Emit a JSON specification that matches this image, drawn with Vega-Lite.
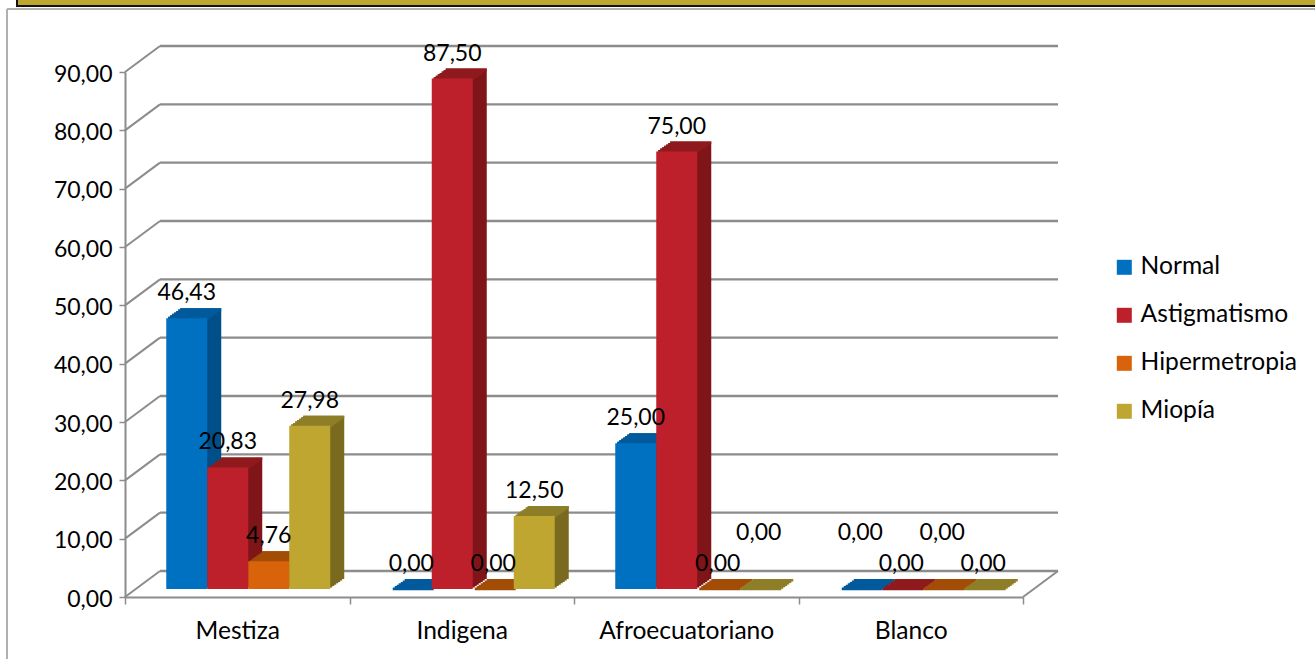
{"$schema":"https://vega.github.io/schema/vega-lite/v6.json","width":898,"height":525,"autosize":{"type":"none"},"padding":{"left":125,"top":72,"right":292,"bottom":62},"background":"white","config":{"view":{"stroke":null},"font":"Lato","text":{"font":"Lato"}},
"data":{"values":[
{"grupo":"Mestiza","refraccion":"Normal","valor":46.43,"etiqueta":"46,43"},
{"grupo":"Mestiza","refraccion":"Astigmatismo","valor":20.83,"etiqueta":"20,83"},
{"grupo":"Mestiza","refraccion":"Hipermetropia","valor":4.76,"etiqueta":"4,76"},
{"grupo":"Mestiza","refraccion":"Miopía","valor":27.98,"etiqueta":"27,98"},
{"grupo":"Indigena","refraccion":"Normal","valor":0,"etiqueta":"0,00"},
{"grupo":"Indigena","refraccion":"Astigmatismo","valor":87.5,"etiqueta":"87,50"},
{"grupo":"Indigena","refraccion":"Hipermetropia","valor":0,"etiqueta":"0,00"},
{"grupo":"Indigena","refraccion":"Miopía","valor":12.5,"etiqueta":"12,50"},
{"grupo":"Afroecuatoriano","refraccion":"Normal","valor":25,"etiqueta":"25,00"},
{"grupo":"Afroecuatoriano","refraccion":"Astigmatismo","valor":75,"etiqueta":"75,00"},
{"grupo":"Afroecuatoriano","refraccion":"Hipermetropia","valor":0,"etiqueta":"0,00"},
{"grupo":"Afroecuatoriano","refraccion":"Miopía","valor":0,"etiqueta":"0,00"},
{"grupo":"Blanco","refraccion":"Normal","valor":0,"etiqueta":"0,00"},
{"grupo":"Blanco","refraccion":"Astigmatismo","valor":0,"etiqueta":"0,00"},
{"grupo":"Blanco","refraccion":"Hipermetropia","valor":0,"etiqueta":"0,00"},
{"grupo":"Blanco","refraccion":"Miopía","valor":0,"etiqueta":"0,00"}]},
"resolve":{"scale":{"x":"independent","y":"independent","color":"independent","xOffset":"independent"}},
"layer":[
{"data":{"values":[{"a":1}]},"mark":{"type":"rect","fill":"#bea631","stroke":"#111","strokeWidth":2},"encoding":{"x":{"datum":0,"type":"quantitative","axis":null,"scale":{"domain":[0,1],"range":[-108,1195]}},"x2":{"datum":1},"y":{"datum":0,"type":"quantitative","axis":null,"scale":{"domain":[0,1],"range":[-66,-80]}},"y2":{"datum":1}}},
{"data":{"values":[{"a":1}]},"mark":{"type":"rule","color":"#b0b0b0","strokeWidth":2},"encoding":{"x":{"datum":0,"type":"quantitative","axis":null,"scale":{"domain":[0,1],"range":[-118,1190]}},"x2":{"datum":1},"y":{"datum":0,"type":"quantitative","axis":null,"scale":{"domain":[0,1],"range":[-63,-63]}}}},
{"data":{"values":[{"a":1}]},"mark":{"type":"rule","color":"#b0b0b0","strokeWidth":2},"encoding":{"x":{"datum":0,"type":"quantitative","axis":null,"scale":{"domain":[0,1],"range":[-118,-118]}},"y":{"datum":0,"type":"quantitative","axis":null,"scale":{"domain":[0,1],"range":[587,-63]}},"y2":{"datum":1}}},
{"data":{"values":[{"v":0},{"v":10},{"v":20},{"v":30},{"v":40},{"v":50},{"v":60},{"v":70},{"v":80},{"v":90}]},"mark":{"type":"rule","color":"#8c8c8c","strokeWidth":2.4},"encoding":{"x":{"datum":0,"type":"quantitative","axis":null,"scale":{"domain":[0,1],"range":[35,933]}},"x2":{"datum":1},"y":{"field":"v","type":"quantitative","axis":null,"scale":{"domain":[0,90],"range":[499,-26]}}}},
{"data":{"values":[{"v":0},{"v":10},{"v":20},{"v":30},{"v":40},{"v":50},{"v":60},{"v":70},{"v":80},{"v":90}]},"mark":{"type":"rule","color":"#8c8c8c","strokeWidth":2,"y2Offset":-26},"encoding":{"x":{"datum":0,"type":"quantitative","axis":null,"scale":{"domain":[0,1],"range":[0,35]}},"x2":{"datum":1},"y":{"field":"v","type":"quantitative","axis":null,"scale":{"domain":[0,90],"range":[525,0]}},"y2":{"field":"v"}}},
{"data":{"values":[{"v":0}]},"mark":{"type":"rule","color":"#8c8c8c","strokeWidth":2,"y2Offset":-26},"encoding":{"x":{"datum":0,"type":"quantitative","axis":null,"scale":{"domain":[0,1],"range":[898,933]}},"x2":{"datum":1},"y":{"field":"v","type":"quantitative","axis":null,"scale":{"domain":[0,90],"range":[525,0]}},"y2":{"field":"v"}}},
{"mark":{"type":"rect"},"encoding":{"x":{"field":"grupo","type":"nominal","axis":null,"scale":{"domain":["Mestiza","Indigena","Afroecuatoriano","Blanco"],"range":[13,911],"paddingInner":0,"paddingOuter":0}},"xOffset":{"field":"refraccion","scale":{"domain":["Normal","Astigmatismo","Hipermetropia","Miopía"],"paddingInner":0,"paddingOuter":0.738}},"y":{"field":"valor","type":"quantitative","axis":null,"scale":{"domain":[0,90],"range":[515.6,-9.4]}},"y2":{"datum":0},"color":{"field":"refraccion","legend":null,"scale":{"domain":["Normal","Astigmatismo","Hipermetropia","Miopía"],"range":["#004f88","#7f1519","#a34c06","#7a6a1f"]}}}},
{"mark":{"type":"rect"},"encoding":{"x":{"field":"grupo","type":"nominal","axis":null,"scale":{"domain":["Mestiza","Indigena","Afroecuatoriano","Blanco"],"range":[15,913],"paddingInner":0,"paddingOuter":0}},"xOffset":{"field":"refraccion","scale":{"domain":["Normal","Astigmatismo","Hipermetropia","Miopía"],"paddingInner":0,"paddingOuter":0.738}},"y":{"field":"valor","type":"quantitative","axis":null,"scale":{"domain":[0,90],"range":[514.1,-10.9]}},"y2":{"datum":0},"color":{"field":"refraccion","legend":null,"scale":{"domain":["Normal","Astigmatismo","Hipermetropia","Miopía"],"range":["#004f88","#7f1519","#a34c06","#7a6a1f"]}}}},
{"mark":{"type":"rect"},"encoding":{"x":{"field":"grupo","type":"nominal","axis":null,"scale":{"domain":["Mestiza","Indigena","Afroecuatoriano","Blanco"],"range":[17,915],"paddingInner":0,"paddingOuter":0}},"xOffset":{"field":"refraccion","scale":{"domain":["Normal","Astigmatismo","Hipermetropia","Miopía"],"paddingInner":0,"paddingOuter":0.738}},"y":{"field":"valor","type":"quantitative","axis":null,"scale":{"domain":[0,90],"range":[512.7,-12.3]}},"y2":{"datum":0},"color":{"field":"refraccion","legend":null,"scale":{"domain":["Normal","Astigmatismo","Hipermetropia","Miopía"],"range":["#004f88","#7f1519","#a34c06","#7a6a1f"]}}}},
{"mark":{"type":"rect"},"encoding":{"x":{"field":"grupo","type":"nominal","axis":null,"scale":{"domain":["Mestiza","Indigena","Afroecuatoriano","Blanco"],"range":[19,917],"paddingInner":0,"paddingOuter":0}},"xOffset":{"field":"refraccion","scale":{"domain":["Normal","Astigmatismo","Hipermetropia","Miopía"],"paddingInner":0,"paddingOuter":0.738}},"y":{"field":"valor","type":"quantitative","axis":null,"scale":{"domain":[0,90],"range":[511.3,-13.7]}},"y2":{"datum":0},"color":{"field":"refraccion","legend":null,"scale":{"domain":["Normal","Astigmatismo","Hipermetropia","Miopía"],"range":["#004f88","#7f1519","#a34c06","#7a6a1f"]}}}},
{"mark":{"type":"rect"},"encoding":{"x":{"field":"grupo","type":"nominal","axis":null,"scale":{"domain":["Mestiza","Indigena","Afroecuatoriano","Blanco"],"range":[21,919],"paddingInner":0,"paddingOuter":0}},"xOffset":{"field":"refraccion","scale":{"domain":["Normal","Astigmatismo","Hipermetropia","Miopía"],"paddingInner":0,"paddingOuter":0.738}},"y":{"field":"valor","type":"quantitative","axis":null,"scale":{"domain":[0,90],"range":[509.9,-15.1]}},"y2":{"datum":0},"color":{"field":"refraccion","legend":null,"scale":{"domain":["Normal","Astigmatismo","Hipermetropia","Miopía"],"range":["#004f88","#7f1519","#a34c06","#7a6a1f"]}}}},
{"mark":{"type":"rect"},"encoding":{"x":{"field":"grupo","type":"nominal","axis":null,"scale":{"domain":["Mestiza","Indigena","Afroecuatoriano","Blanco"],"range":[23,921],"paddingInner":0,"paddingOuter":0}},"xOffset":{"field":"refraccion","scale":{"domain":["Normal","Astigmatismo","Hipermetropia","Miopía"],"paddingInner":0,"paddingOuter":0.738}},"y":{"field":"valor","type":"quantitative","axis":null,"scale":{"domain":[0,90],"range":[508.4,-16.6]}},"y2":{"datum":0},"color":{"field":"refraccion","legend":null,"scale":{"domain":["Normal","Astigmatismo","Hipermetropia","Miopía"],"range":["#004f88","#7f1519","#a34c06","#7a6a1f"]}}}},
{"mark":{"type":"rect"},"encoding":{"x":{"field":"grupo","type":"nominal","axis":null,"scale":{"domain":["Mestiza","Indigena","Afroecuatoriano","Blanco"],"range":[25,923],"paddingInner":0,"paddingOuter":0}},"xOffset":{"field":"refraccion","scale":{"domain":["Normal","Astigmatismo","Hipermetropia","Miopía"],"paddingInner":0,"paddingOuter":0.738}},"y":{"field":"valor","type":"quantitative","axis":null,"scale":{"domain":[0,90],"range":[507,-18]}},"y2":{"datum":0},"color":{"field":"refraccion","legend":null,"scale":{"domain":["Normal","Astigmatismo","Hipermetropia","Miopía"],"range":["#004f88","#7f1519","#a34c06","#7a6a1f"]}}}},
{"mark":{"type":"rect","y2Offset":2.6},"encoding":{"x":{"field":"grupo","type":"nominal","axis":null,"scale":{"domain":["Mestiza","Indigena","Afroecuatoriano","Blanco"],"range":[25,923],"paddingInner":0,"paddingOuter":0}},"xOffset":{"field":"refraccion","scale":{"domain":["Normal","Astigmatismo","Hipermetropia","Miopía"],"paddingInner":0,"paddingOuter":0.738}},"y":{"field":"valor","type":"quantitative","axis":null,"scale":{"domain":[0,90],"range":[507,-18]}},"y2":{"field":"valor"},"color":{"field":"refraccion","legend":null,"scale":{"domain":["Normal","Astigmatismo","Hipermetropia","Miopía"],"range":["#005a9c","#8f1a1e","#a34c06","#8e7e28"]}}}},
{"mark":{"type":"rect","y2Offset":2.6},"encoding":{"x":{"field":"grupo","type":"nominal","axis":null,"scale":{"domain":["Mestiza","Indigena","Afroecuatoriano","Blanco"],"range":[23,921],"paddingInner":0,"paddingOuter":0}},"xOffset":{"field":"refraccion","scale":{"domain":["Normal","Astigmatismo","Hipermetropia","Miopía"],"paddingInner":0,"paddingOuter":0.738}},"y":{"field":"valor","type":"quantitative","axis":null,"scale":{"domain":[0,90],"range":[508.4,-16.6]}},"y2":{"field":"valor"},"color":{"field":"refraccion","legend":null,"scale":{"domain":["Normal","Astigmatismo","Hipermetropia","Miopía"],"range":["#005a9c","#8f1a1e","#a34c06","#8e7e28"]}}}},
{"mark":{"type":"rect","y2Offset":2.6},"encoding":{"x":{"field":"grupo","type":"nominal","axis":null,"scale":{"domain":["Mestiza","Indigena","Afroecuatoriano","Blanco"],"range":[21,919],"paddingInner":0,"paddingOuter":0}},"xOffset":{"field":"refraccion","scale":{"domain":["Normal","Astigmatismo","Hipermetropia","Miopía"],"paddingInner":0,"paddingOuter":0.738}},"y":{"field":"valor","type":"quantitative","axis":null,"scale":{"domain":[0,90],"range":[509.9,-15.1]}},"y2":{"field":"valor"},"color":{"field":"refraccion","legend":null,"scale":{"domain":["Normal","Astigmatismo","Hipermetropia","Miopía"],"range":["#005a9c","#8f1a1e","#a34c06","#8e7e28"]}}}},
{"mark":{"type":"rect","y2Offset":2.6},"encoding":{"x":{"field":"grupo","type":"nominal","axis":null,"scale":{"domain":["Mestiza","Indigena","Afroecuatoriano","Blanco"],"range":[19,917],"paddingInner":0,"paddingOuter":0}},"xOffset":{"field":"refraccion","scale":{"domain":["Normal","Astigmatismo","Hipermetropia","Miopía"],"paddingInner":0,"paddingOuter":0.738}},"y":{"field":"valor","type":"quantitative","axis":null,"scale":{"domain":[0,90],"range":[511.3,-13.7]}},"y2":{"field":"valor"},"color":{"field":"refraccion","legend":null,"scale":{"domain":["Normal","Astigmatismo","Hipermetropia","Miopía"],"range":["#005a9c","#8f1a1e","#a34c06","#8e7e28"]}}}},
{"mark":{"type":"rect","y2Offset":2.6},"encoding":{"x":{"field":"grupo","type":"nominal","axis":null,"scale":{"domain":["Mestiza","Indigena","Afroecuatoriano","Blanco"],"range":[17,915],"paddingInner":0,"paddingOuter":0}},"xOffset":{"field":"refraccion","scale":{"domain":["Normal","Astigmatismo","Hipermetropia","Miopía"],"paddingInner":0,"paddingOuter":0.738}},"y":{"field":"valor","type":"quantitative","axis":null,"scale":{"domain":[0,90],"range":[512.7,-12.3]}},"y2":{"field":"valor"},"color":{"field":"refraccion","legend":null,"scale":{"domain":["Normal","Astigmatismo","Hipermetropia","Miopía"],"range":["#005a9c","#8f1a1e","#a34c06","#8e7e28"]}}}},
{"mark":{"type":"rect","y2Offset":2.6},"encoding":{"x":{"field":"grupo","type":"nominal","axis":null,"scale":{"domain":["Mestiza","Indigena","Afroecuatoriano","Blanco"],"range":[15,913],"paddingInner":0,"paddingOuter":0}},"xOffset":{"field":"refraccion","scale":{"domain":["Normal","Astigmatismo","Hipermetropia","Miopía"],"paddingInner":0,"paddingOuter":0.738}},"y":{"field":"valor","type":"quantitative","axis":null,"scale":{"domain":[0,90],"range":[514.1,-10.9]}},"y2":{"field":"valor"},"color":{"field":"refraccion","legend":null,"scale":{"domain":["Normal","Astigmatismo","Hipermetropia","Miopía"],"range":["#005a9c","#8f1a1e","#a34c06","#8e7e28"]}}}},
{"mark":{"type":"rect","y2Offset":2.6},"encoding":{"x":{"field":"grupo","type":"nominal","axis":null,"scale":{"domain":["Mestiza","Indigena","Afroecuatoriano","Blanco"],"range":[13,911],"paddingInner":0,"paddingOuter":0}},"xOffset":{"field":"refraccion","scale":{"domain":["Normal","Astigmatismo","Hipermetropia","Miopía"],"paddingInner":0,"paddingOuter":0.738}},"y":{"field":"valor","type":"quantitative","axis":null,"scale":{"domain":[0,90],"range":[515.6,-9.4]}},"y2":{"field":"valor"},"color":{"field":"refraccion","legend":null,"scale":{"domain":["Normal","Astigmatismo","Hipermetropia","Miopía"],"range":["#005a9c","#8f1a1e","#a34c06","#8e7e28"]}}}},
{"mark":{"type":"rect"},"encoding":{"x":{"field":"grupo","type":"nominal","axis":null,"scale":{"domain":["Mestiza","Indigena","Afroecuatoriano","Blanco"],"range":[11,909],"paddingInner":0,"paddingOuter":0}},"xOffset":{"field":"refraccion","scale":{"domain":["Normal","Astigmatismo","Hipermetropia","Miopía"],"paddingInner":0,"paddingOuter":0.738}},"y":{"field":"valor","type":"quantitative","axis":null,"scale":{"domain":[0,90],"range":[517,-8]}},"y2":{"datum":0},"color":{"field":"refraccion","title":null,"scale":{"domain":["Normal","Astigmatismo","Hipermetropia","Miopía"],"range":["#0070c0","#be202b","#d8630b","#bea631"]},"legend":{"orient":"none","legendX":987,"legendY":183,"symbolType":"square","symbolSize":225,"symbolStrokeWidth":0,"labelFont":"Lato","labelFontSize":24.6,"labelColor":"#000","labelOffset":4,"rowPadding":23,"labelLimit":300}}}},
{"transform":[{"filter":"!(datum.valor==0 && ((datum.grupo=='Blanco' && (datum.refraccion=='Normal' || datum.refraccion=='Hipermetropia')) || (datum.grupo=='Afroecuatoriano' && datum.refraccion=='Miopía')))"}],"mark":{"type":"text","font":"Lato","fontSize":23,"color":"#000","dy":-33},"encoding":{"x":{"field":"grupo","type":"nominal","axis":null,"scale":{"domain":["Mestiza","Indigena","Afroecuatoriano","Blanco"],"range":[11,909],"paddingInner":0,"paddingOuter":0}},"xOffset":{"field":"refraccion","scale":{"type":"band","domain":["Normal","Astigmatismo","Hipermetropia","Miopía"],"paddingInner":0,"paddingOuter":0.738}},"y":{"field":"valor","type":"quantitative","axis":null,"scale":{"domain":[0,90],"range":[525,0]}},"text":{"field":"etiqueta"}}},
{"transform":[{"filter":"datum.valor==0 && ((datum.grupo=='Blanco' && (datum.refraccion=='Normal' || datum.refraccion=='Hipermetropia')) || (datum.grupo=='Afroecuatoriano' && datum.refraccion=='Miopía'))"}],"mark":{"type":"text","font":"Lato","fontSize":23,"color":"#000","dy":-64},"encoding":{"x":{"field":"grupo","type":"nominal","axis":null,"scale":{"domain":["Mestiza","Indigena","Afroecuatoriano","Blanco"],"range":[11,909],"paddingInner":0,"paddingOuter":0}},"xOffset":{"field":"refraccion","scale":{"type":"band","domain":["Normal","Astigmatismo","Hipermetropia","Miopía"],"paddingInner":0,"paddingOuter":0.738}},"y":{"field":"valor","type":"quantitative","axis":null,"scale":{"domain":[0,90],"range":[525,0]}},"text":{"field":"etiqueta"}}},
{"mark":{"type":"rect","opacity":0},"encoding":{"x":{"field":"grupo","type":"nominal","title":null,"scale":{"domain":["Mestiza","Indigena","Afroecuatoriano","Blanco"],"range":[0,898],"paddingInner":0,"paddingOuter":0},"axis":{"orient":"bottom","tickBand":"extent","labelAngle":0,"labelFont":"Lato","labelFontSize":24.6,"labelColor":"#000","labelPadding":15,"domainColor":"#8c8c8c","domainWidth":2,"tickColor":"#8c8c8c","tickSize":7,"tickWidth":1.5,"labelLimit":300}},"y":{"field":"valor","type":"quantitative","title":null,"scale":{"domain":[0,90],"range":[525,0]},"axis":{"orient":"left","values":[0,10,20,30,40,50,60,70,80,90],"labelExpr":"replace(format(datum.value,'.2f'),'.',',')","grid":false,"labelFont":"Lato","labelFontSize":23,"labelColor":"#000","labelPadding":7,"labelOffset":2,"domainColor":"#8c8c8c","domainWidth":2,"tickColor":"#8c8c8c","tickSize":6,"tickWidth":1.5}}}}
]}
